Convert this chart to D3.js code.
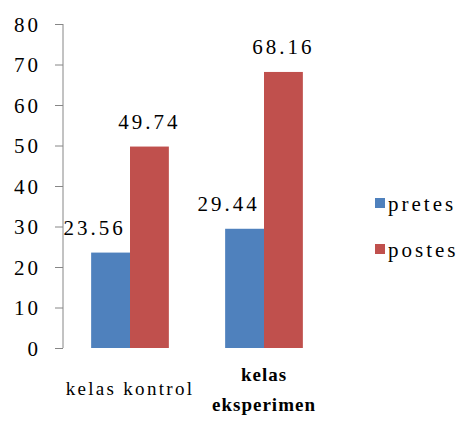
<!DOCTYPE html>
<html>
<head>
<meta charset="utf-8">
<script src="https://cdn.jsdelivr.net/npm/d3@7"></script>
<style>
  body { margin: 0; background: #fff; }
  svg text { font-family: "Liberation Serif", "Times New Roman", Times, "DejaVu Serif", serif; }
</style>
</head>
<body>
<div id="chart"></div>
<script>
// data
const categories = [["kelas kontrol"], ["kelas", "eksperimen"]];
const seriesNames = ["pretes", "postes"];
const pretes = [23.56, 29.44];
const postes = [49.74, 68.16];
const yTicks = [0, 10, 20, 30, 40, 50, 60, 70, 80];
const colors = ["#4f81bd", "#c0504d"];

const width = 460, height = 427;
const x0 = 63, x1 = 331;
const yTop = 24, yBottom = 348;

const svg = d3.select("#chart")
    .append("svg")
    .attr("width", width)
    .attr("height", height);

const x = d3.scaleBand()
    .domain(d3.range(categories.length))
    .range([x0, x1])
    .paddingInner(0.42)
    .paddingOuter(0.21);

const xs = d3.scaleBand()
    .domain(seriesNames)
    .range([0, x.bandwidth()]);

const y = d3.scaleLinear()
    .domain([0, 80])
    .range([yBottom, yTop]);

// Y axis
const yAxis = svg.append("g")
    .attr("transform", "translate(" + x0 + ",0)")
    .call(d3.axisLeft(y).tickValues(yTicks).tickSize(8).tickPadding(14));
yAxis.attr("font-family", null);
yAxis.selectAll("path, line").attr("stroke", "#868686");
yAxis.select(".domain").attr("d", "M0," + yTop + "V" + yBottom);
yAxis.selectAll("text")
    .style("font-size", "21px")
    .style("letter-spacing", "3px")
    .attr("dy", "0.34em");

// Bars
const series = [pretes, postes];
series.forEach(function (vals, si) {
    svg.append("g")
        .selectAll("rect")
        .data(vals).enter()
        .append("rect")
        .attr("x", function (d, i) { return x(i) + xs(seriesNames[si]); })
        .attr("y", function (d) { return y(d); })
        .attr("width", xs.bandwidth())
        .attr("height", function (d) { return y(0) - y(d); })
        .attr("fill", colors[si]);

    // value labels
    svg.append("g")
        .selectAll("text")
        .data(vals).enter()
        .append("text")
        .attr("x", function (d, i) {
            return x(i) + xs(seriesNames[si]) + xs.bandwidth() / 2 + (si === 0 ? -16 : 0);
        })
        .attr("y", function (d) { return y(d) - 18; })
        .attr("text-anchor", "middle")
        .style("font-size", "21px")
        .style("letter-spacing", "3px")
        .text(function (d) { return d.toFixed(2); });
});

// Category labels
categories.forEach(function (lines, i) {
    const cx = x(i) + x.bandwidth() / 2;
    const bold = lines.length > 1;
    const t = svg.append("text")
        .attr("text-anchor", "middle")
        .style("font-size", "19px")
        .style("letter-spacing", bold ? "1px" : "2.3px")
        .style("font-weight", bold ? "bold" : "normal");
    const startY = bold ? 381 : 395;
    lines.forEach(function (l, j) {
        t.append("tspan")
            .attr("x", cx)
            .attr("y", startY + j * 30)
            .text(l);
    });
});

// Legend
const legend = svg.append("g");
seriesNames.forEach(function (name, i) {
    const ly = 203 + i * 46;
    legend.append("rect")
        .attr("x", 375)
        .attr("y", ly - 5)
        .attr("width", 10)
        .attr("height", 10)
        .attr("fill", colors[i]);
    legend.append("text")
        .attr("x", 388)
        .attr("y", ly + 8)
        .style("font-size", "21px")
        .style("letter-spacing", "3px")
        .text(name);
});
</script>
</body>
</html>
